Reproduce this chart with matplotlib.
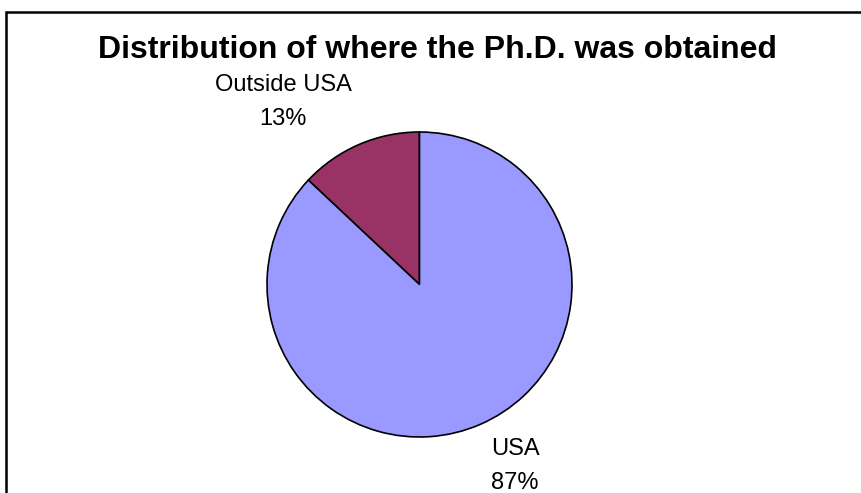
import matplotlib
matplotlib.use("Agg")
import matplotlib.pyplot as plt
from matplotlib.patches import Rectangle

plt.rcParams['font.family'] = ['Liberation Sans', 'DejaVu Sans']

# data
labels = ['Outside USA', 'USA']
shares = [13, 87]
colors = ['#993366', '#9999FF']
title = "Distribution of where the Ph.D. was obtained"

W, H = 861, 493
fig = plt.figure(figsize=(W / 100, H / 100), dpi=100)

# outer chart frame (right and bottom edges fall outside the picture)
frame = Rectangle((6 / W, -0.1), 1.0, 1.1 - 12 / H,
                  transform=fig.transFigure, fill=False,
                  edgecolor='black', linewidth=1.8)
fig.patches.append(frame)

fig.text(437.5 / W, 1 - 50 / H, title, ha='center', va='center',
         fontsize=23, fontweight='bold')

# pie: centre (419.5, 284.5), radius 152.5 px
cx, cy, r = 419.5, 284.5, 152.5
ax = fig.add_axes([(cx - r) / W, (H - cy - r) / H, 2 * r / W, 2 * r / H])
ax.pie(shares, colors=colors, startangle=90, counterclock=True,
       wedgeprops=dict(edgecolor='black', linewidth=1.2))
ax.set_xlim(-1, 1)
ax.set_ylim(-1, 1)
ax.set_aspect('auto')
ax.axis('off')

# data labels in the places Excel put them
pos = [(-0.895, 1.197), (0.626, -1.19)]
for lab, val, (x, y) in zip(labels, shares, pos):
    ax.text(x, y, f"{lab}\n{val}%", ha='center', va='center',
            fontsize=17, linespacing=1.66, clip_on=False)

fig.savefig('out.png', dpi=100)
